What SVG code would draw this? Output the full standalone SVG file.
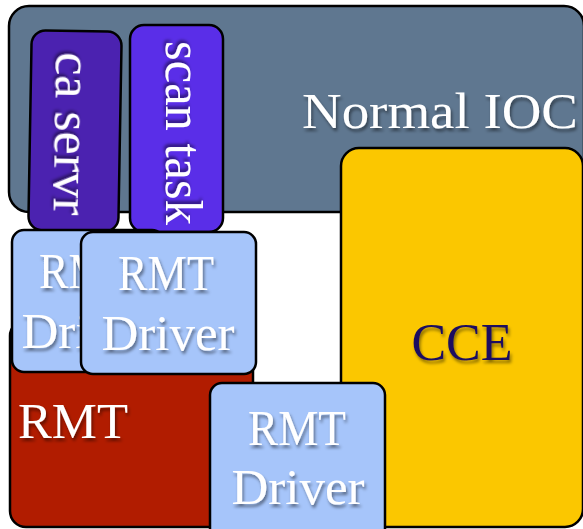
<svg xmlns="http://www.w3.org/2000/svg" width="583" height="529" viewBox="0 0 583 529">
<defs>
<filter id="sh" x="-20%" y="-20%" width="140%" height="160%">
<feDropShadow dx="1.5" dy="3" stdDeviation="1.8" flood-color="#000" flood-opacity="0.45"/>
</filter>
<filter id="shr" x="-40%" y="-20%" width="180%" height="140%">
<feDropShadow dx="-3" dy="1.5" stdDeviation="1.8" flood-color="#000" flood-opacity="0.45"/>
</filter>
<clipPath id="clip-d1"><rect x="0" y="220" width="81" height="160"/></clipPath>
</defs>
<style>
.box{stroke:#000;stroke-width:2.5}
.t{font-family:"Liberation Serif","Times New Roman",serif;font-size:51px;fill:#fff;filter:url(#sh)}
.m{text-anchor:middle}
</style>
<rect width="583" height="529" fill="#fff"/>
<g id="normal-ioc">
<rect class="box" x="9" y="6" width="575" height="206" rx="20" fill="#5f7790"/>
<text class="t" x="302" y="128" textLength="276" lengthAdjust="spacingAndGlyphs">Normal IOC</text>
</g>
<g id="ca-servr" transform="rotate(1 75 131)">
<rect class="box" x="30" y="31" width="90" height="200" rx="14" fill="#4b22b0"/>
<text class="t m" style="filter:url(#shr);font-size:52px" transform="translate(55 134) rotate(90)" x="0" y="0">ca servr</text>
</g>
<g id="scan-task">
<rect class="box" x="130" y="25" width="93" height="207" rx="14" fill="#5a2ee8"/>
<text class="t m" style="filter:url(#shr);font-size:52px" transform="translate(166 133) rotate(90)" x="0" y="0" textLength="184" lengthAdjust="spacingAndGlyphs">scan task</text>
</g>
<g id="cce">
<rect class="box" x="341" y="148" width="242" height="379" rx="18" fill="#fbc700"/>
<text class="t m" x="462" y="360" style="fill:#1e1060;font-size:52px">CCE</text>
</g>
<g id="rmt">
<rect class="box" x="10" y="320" width="243" height="207" rx="16" fill="#b11c00"/>
<text class="t" x="18" y="438" textLength="110" lengthAdjust="spacingAndGlyphs">RMT</text>
</g>
<g id="rmt-driver-1">
<rect class="box" x="12" y="230" width="152" height="142" rx="12" fill="#a6c5fa"/>
<g clip-path="url(#clip-d1)">
<text class="t m" x="87" y="288" textLength="96" lengthAdjust="spacingAndGlyphs">RMT</text>
<text class="t m" x="88" y="348">Driver</text>
</g>
</g>
<g id="rmt-driver-2">
<rect class="box" x="81" y="232" width="175" height="142" rx="12" fill="#a6c5fa"/>
<text class="t m" x="166" y="290" textLength="96" lengthAdjust="spacingAndGlyphs">RMT</text>
<text class="t m" x="168" y="350">Driver</text>
</g>
<g id="rmt-driver-3">
<rect class="box" x="210" y="383" width="175" height="160" rx="12" fill="#a6c5fa"/>
<text class="t m" x="297" y="445" textLength="98" lengthAdjust="spacingAndGlyphs">RMT</text>
<text class="t m" x="298" y="504">Driver</text>
</g>
<g id="connectors"/>
</svg>
